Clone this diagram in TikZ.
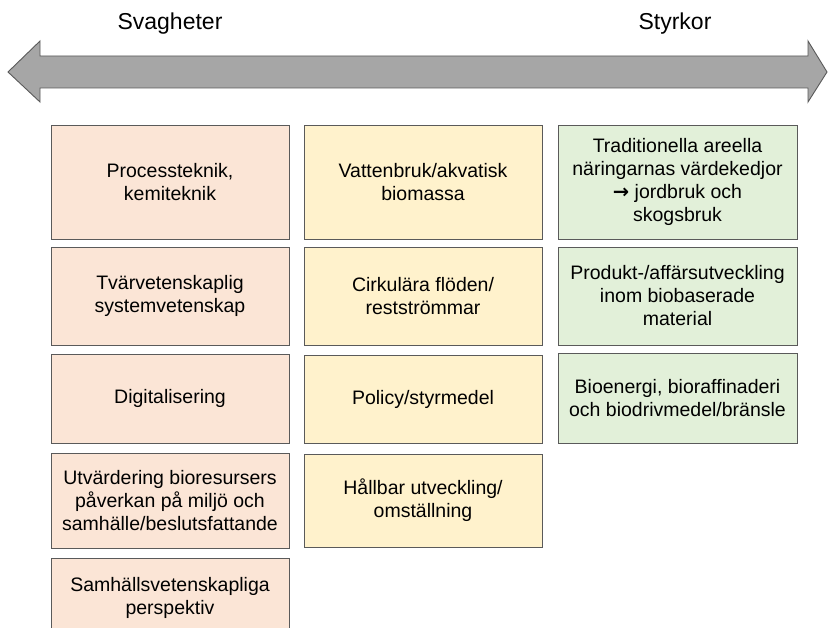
\documentclass[tikz,border=0pt]{standalone}
\usepackage{fontspec}
\setmainfont{Liberation Sans}
\newfontfamily\symfont{DejaVu Sans}
\definecolor{weakfill}{HTML}{FBE5D6}
\definecolor{midfill}{HTML}{FFF2CC}
\definecolor{strongfill}{HTML}{E2F0D9}
\definecolor{edgegray}{HTML}{5A5A5A}
\definecolor{arrowgray}{HTML}{A6A6A6}
\tikzset{
  box/.style={draw=edgegray, line width=0.9pt, rectangle, inner sep=0pt,
    align=center, font=\fontsize{19.5}{23}\selectfont, text=black},
  weak/.style={box, fill=weakfill},
  mid/.style={box, fill=midfill},
  strong/.style={box, fill=strongfill},
  heading/.style={inner sep=0pt, font=\fontsize{23}{27}\selectfont, anchor=base}
}
% place a box by its corners (left, top, right, bottom) in picture units
\newcommand{\cellbox}[7]{%
  \node[#1, minimum width={(#5-#3)*1pt}, minimum height={(#6-#4)*1pt}]
    (#2) at ({(#3+#5)/2},{(#4+#6)/2}) {#7};}
\begin{document}
\begin{tikzpicture}[x=1pt,y=-1pt]
  \useasboundingbox (0,0) rectangle (832,628);
  \clip (0,0) rectangle (832,628);
  \fill[white] (0,0) rectangle (832,628);

  % double-headed scale arrow
  \draw[edgegray, line width=0.9pt, fill=arrowgray, line join=miter]
    (8,72) -- (40,41) -- (40,56) -- (808,56) -- (808,41) -- (827,72)
    -- (808,102) -- (808,88) -- (40,88) -- (40,102) -- cycle;

  \node[heading] (weakhead) at (170,30) {Svagheter};
  \node[heading] (stronghead) at (675,30) {Styrkor};

  % left column
  \cellbox{weak}{w1}{51}{125}{289}{239}{Processteknik,\\kemiteknik}
  \cellbox{weak}{w2}{51}{247}{289}{345}{Tvärvetenskaplig\\systemvetenskap}
  \cellbox{weak}{w3}{51}{354}{289}{443}{Digitalisering}
  \cellbox{weak}{w4}{51}{453}{289}{548}{Utvärdering bioresursers\\påverkan på miljö och\\samhälle/beslutsfattande}
  \cellbox{weak}{w5}{51}{558}{289}{638}{Samhällsvetenskapliga\\perspektiv}

  % middle column
  \cellbox{mid}{m1}{304}{125}{542}{239}{Vattenbruk/akvatisk\\biomassa}
  \cellbox{mid}{m2}{304}{247}{542}{345}{Cirkulära flöden/\\restströmmar}
  \cellbox{mid}{m3}{304}{355}{542}{443}{Policy/styrmedel}
  \cellbox{mid}{m4}{304}{454}{542}{547}{Hållbar utveckling/\\omställning}

  % right column
  \cellbox{strong}{s1}{558}{125}{797}{239}{Traditionella areella\\näringarnas värdekedjor\\{\symfont\bfseries →} jordbruk och\\skogsbruk}
  \cellbox{strong}{s2}{558}{247}{797}{345}{Produkt-/affärsutveckling\\inom biobaserade\\material}
  \cellbox{strong}{s3}{558}{353}{797}{443}{Bioenergi, bioraffinaderi\\och biodrivmedel/bränsle}
\end{tikzpicture}
\end{document}
